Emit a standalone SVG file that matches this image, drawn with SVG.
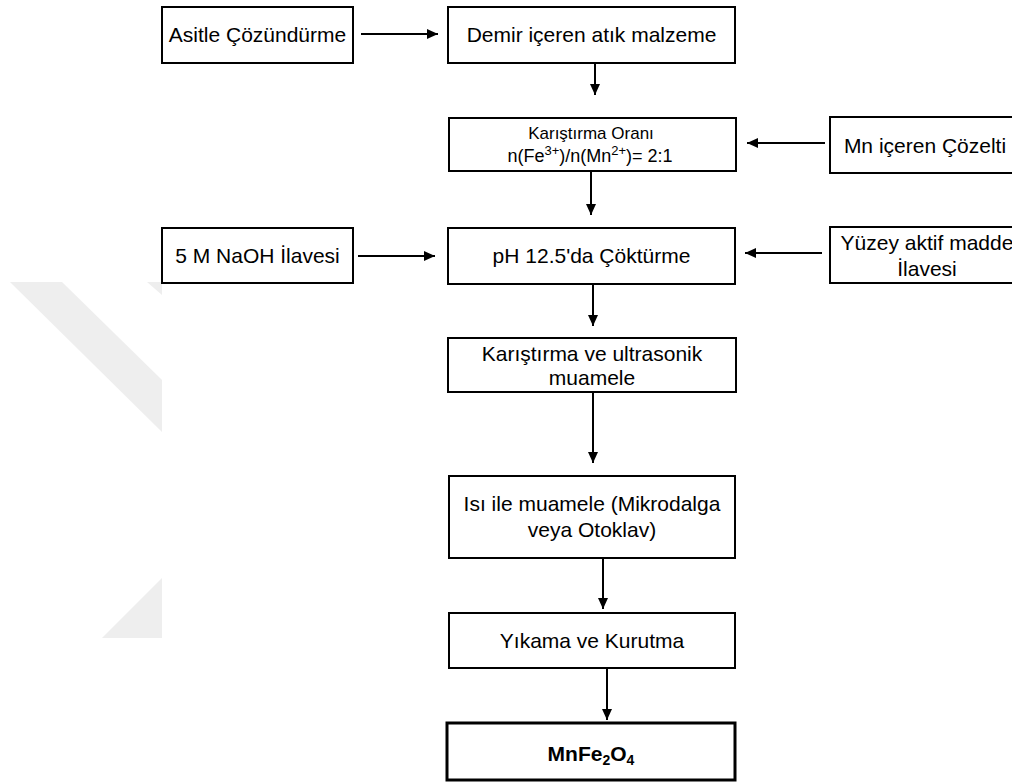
<svg xmlns="http://www.w3.org/2000/svg" width="1012" height="782" viewBox="0 0 1012 782">
<style>
.box{fill:#fff;stroke:#000;stroke-width:2}
.bold{fill:#fff;stroke:#000;stroke-width:3}
.t{font-family:"Liberation Sans",Arial,sans-serif;font-size:21px;fill:#000;text-anchor:middle}
.s{font-size:17px}
.s2{font-size:18px}
.b{font-weight:bold;font-size:21px}
.c{stroke:#000;stroke-width:2;fill:none;marker-end:url(#ah)}
.wm{fill:#eeeeee}
</style>
<defs>
<marker id="ah" markerUnits="userSpaceOnUse" markerWidth="12" markerHeight="12" viewBox="0 0 12 12" refX="11" refY="6" orient="auto">
<path d="M0,1 L11,6 L0,11 Z" fill="#000"/>
</marker>
</defs>
<rect width="1012" height="782" fill="#fff"/>
<g id="watermark">
<polygon class="wm" points="10,282 62,282 162,380 162,432"/>
<polygon class="wm" points="147,282 162,282 162,295"/>
<polygon class="wm" points="162,578 162,638 102,638"/>
</g>
<g id="connectors">
<line class="c" x1="361" y1="34" x2="438" y2="34"/>
<line class="c" x1="595" y1="63" x2="595" y2="95"/>
<line class="c" x1="825" y1="143" x2="747" y2="143"/>
<line class="c" x1="591" y1="171" x2="591" y2="215"/>
<line class="c" x1="358" y1="256" x2="435" y2="256"/>
<line class="c" x1="822" y1="253" x2="745" y2="253"/>
<line class="c" x1="593" y1="284" x2="593" y2="326"/>
<line class="c" x1="593" y1="393" x2="593" y2="463"/>
<line class="c" x1="603" y1="558" x2="603" y2="609"/>
<line class="c" x1="607" y1="668" x2="607" y2="720"/>
</g>
<g id="n1"><rect class="box" x="162" y="7" width="191" height="56"/><text class="t" x="257.5" y="42">Asitle Çözündürme</text></g>
<g id="n2"><rect class="box" x="448" y="7" width="287" height="56"/><text class="t" x="591.5" y="42">Demir içeren atık malzeme</text></g>
<g id="n3"><rect class="box" x="449" y="118" width="287" height="53"/>
<text class="t s" x="591" y="139">Karıştırma Oranı</text>
<text class="t s2" x="590" y="162">n(Fe<tspan font-size="13" dy="-7">3+</tspan><tspan dy="7">)/n(Mn</tspan><tspan font-size="13" dy="-7">2+</tspan><tspan dy="7">)= 2:1</tspan></text></g>
<g id="n4"><rect class="box" x="830" y="117" width="194" height="56"/><text class="t" x="925" y="153">Mn içeren Çözelti</text></g>
<g id="n5"><rect class="box" x="162" y="228" width="191" height="55"/><text class="t" x="257.5" y="263">5 M NaOH İlavesi</text></g>
<g id="n6"><rect class="box" x="448" y="228" width="287" height="56"/><text class="t" x="591.5" y="263">pH 12.5'da Çöktürme</text></g>
<g id="n7"><rect class="box" x="830" y="227" width="194" height="56"/><text class="t" x="927" y="250">Yüzey aktif madde</text><text class="t" x="927" y="276">İlavesi</text></g>
<g id="n8"><rect class="box" x="448" y="338" width="288" height="54"/><text class="t" x="592" y="361">Karıştırma ve ultrasonik</text><text class="t" x="592" y="385">muamele</text></g>
<g id="n9"><rect class="box" x="449" y="476" width="286" height="82"/><text class="t" x="592" y="511">Isı ile muamele (Mikrodalga</text><text class="t" x="592" y="537">veya Otoklav)</text></g>
<g id="n10"><rect class="box" x="449" y="613" width="286" height="55"/><text class="t" x="592" y="648">Yıkama ve Kurutma</text></g>
<g id="n11"><rect class="bold" x="447" y="723" width="288" height="57"/><text class="t b" x="591" y="761">MnFe<tspan font-size="14" dy="4">2</tspan><tspan dy="-4">O</tspan><tspan font-size="14" dy="4">4</tspan></text></g>
</svg>
